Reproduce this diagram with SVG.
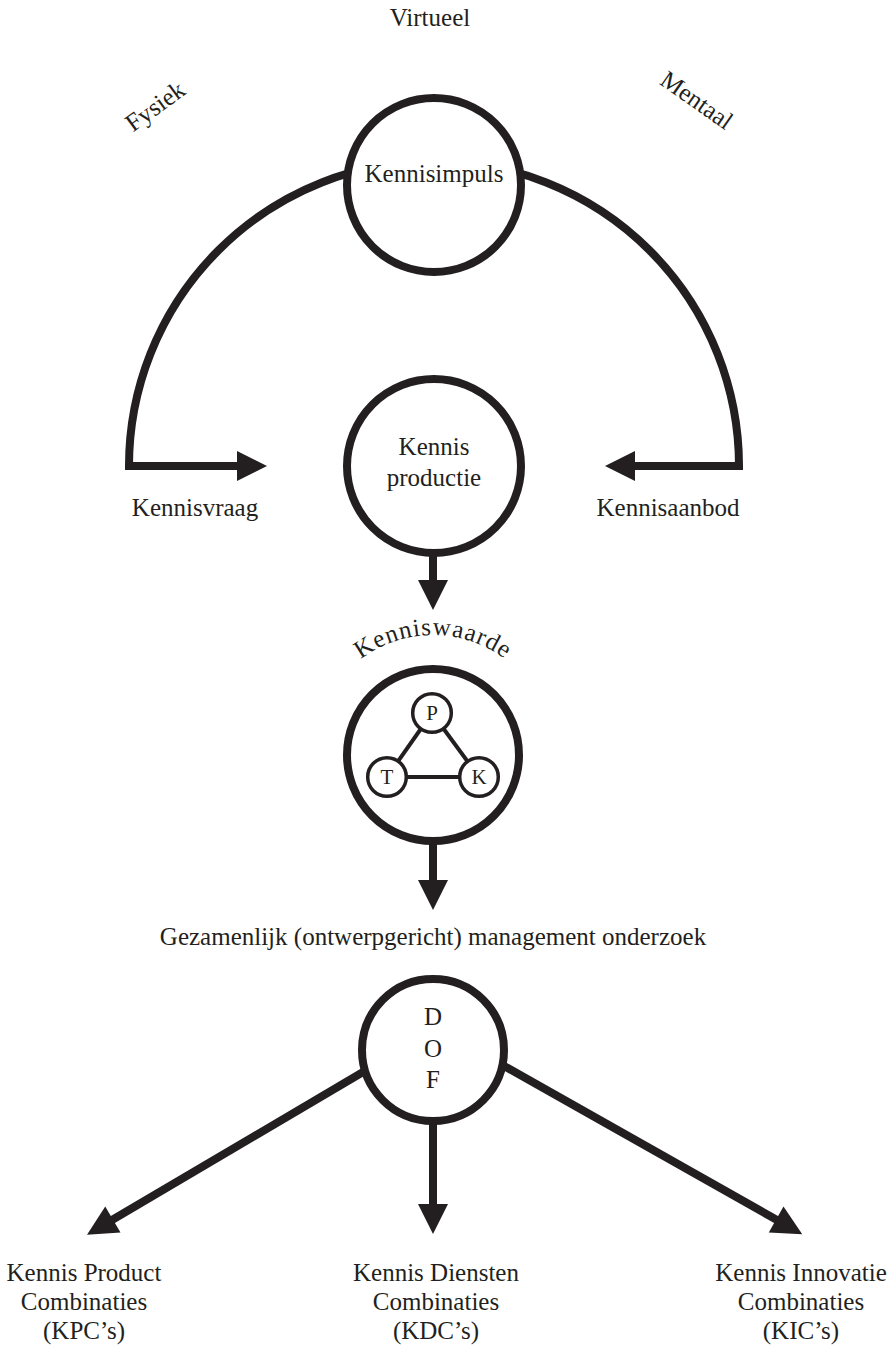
<svg xmlns="http://www.w3.org/2000/svg" width="888" height="1353" viewBox="0 0 888 1353">
<style>
text{font-family:"Liberation Serif","Times New Roman",serif;font-size:25px;fill:#231f20;text-anchor:middle}
.big{fill:#fff;stroke:#231f20;stroke-width:8}
.small{fill:#fff;stroke:#231f20;stroke-width:3.5}
.conn{fill:none;stroke:#231f20;stroke-width:8;stroke-linejoin:miter}
.tri{stroke:#231f20;stroke-width:4}
.ltr{font-size:21px}
</style>
<defs>
<marker id="ah" viewBox="0 -15 30 30" refX="1" refY="0" markerWidth="30" markerHeight="30" markerUnits="userSpaceOnUse" orient="auto-start-reverse" overflow="visible">
<path d="M0,-15 L30,0 L0,15 z" fill="#231f20"/>
</marker>
<path id="arcKW" d="M313,755 A120,120 0 0 1 553,755"/>
</defs>
<rect width="888" height="1353" fill="#fff"/>

<g id="labels-top">
<text x="430" y="26">Virtueel</text>
<text transform="translate(160,113) rotate(-36)" x="0" y="0">Fysiek</text>
<text transform="translate(692,107) rotate(35)" x="0" y="0">Mentaal</text>
</g>

<g id="connectors">
<path class="conn" d="M238,466 H129 A305,305 0 0 1 739,466 H634" marker-start="url(#ah)" marker-end="url(#ah)"/>
<path class="conn" d="M433,540 V581" marker-end="url(#ah)"/>
<path class="conn" d="M433,830 V881" marker-end="url(#ah)"/>
<path class="conn" d="M433,1110 V1205" marker-end="url(#ah)"/>
<path class="conn" d="M380,1062 L112,1220" marker-end="url(#ah)"/>
<path class="conn" d="M490,1058 L777,1220" marker-end="url(#ah)"/>
</g>

<g id="kennisimpuls">
<circle class="big" cx="434" cy="185" r="87"/>
<text x="434" y="182">Kennisimpuls</text>
</g>

<g id="kennisvraag">
<text x="195" y="516">Kennisvraag</text>
</g>

<g id="kennisaanbod">
<text x="668" y="516">Kennisaanbod</text>
</g>

<g id="kennisproductie">
<circle class="big" cx="434" cy="466" r="87"/>
<text x="434" y="455">Kennis</text>
<text x="434" y="486">productie</text>
</g>

<g id="kenniswaarde">
<text letter-spacing="1"><textPath href="#arcKW" startOffset="50%">Kenniswaarde</textPath></text>
<circle class="big" cx="433" cy="755" r="86"/>
<line class="tri" x1="432" y1="713" x2="387" y2="777"/>
<line class="tri" x1="432" y1="713" x2="479" y2="777"/>
<line class="tri" x1="387" y1="777" x2="479" y2="777"/>
<g id="node-P"><circle class="small" cx="432" cy="713" r="19.3"/><text class="ltr" x="432" y="720">P</text></g>
<g id="node-T"><circle class="small" cx="387" cy="777" r="19.3"/><text class="ltr" x="387" y="784">T</text></g>
<g id="node-K"><circle class="small" cx="479" cy="777" r="19.3"/><text class="ltr" x="479" y="784">K</text></g>
</g>

<g id="onderzoek">
<text x="433" y="945">Gezamenlijk (ontwerpgericht) management onderzoek</text>
</g>

<g id="dof">
<circle class="big" cx="433" cy="1050" r="71"/>
<text x="433" y="1025">D</text>
<text x="433" y="1057">O</text>
<text x="433" y="1088">F</text>
</g>

<g id="kpc">
<text x="84" y="1281">Kennis Product</text>
<text x="84" y="1310">Combinaties</text>
<text x="84" y="1339">(KPC’s)</text>
</g>

<g id="kdc">
<text x="436" y="1281">Kennis Diensten</text>
<text x="436" y="1310">Combinaties</text>
<text x="436" y="1339">(KDC’s)</text>
</g>

<g id="kic">
<text x="801" y="1281">Kennis Innovatie</text>
<text x="801" y="1310">Combinaties</text>
<text x="801" y="1339">(KIC’s)</text>
</g>
</svg>
